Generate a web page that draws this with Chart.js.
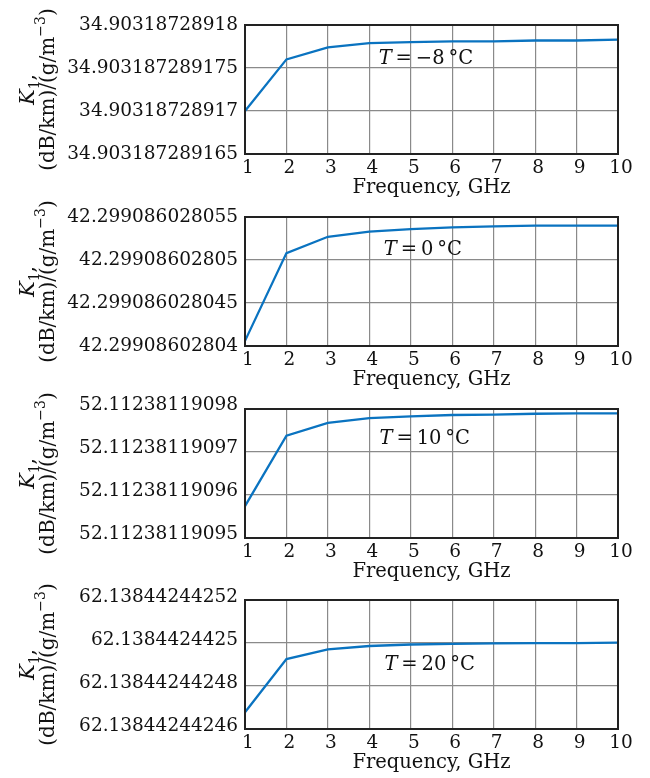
<!DOCTYPE html>
<html>
<head>
<meta charset="utf-8">
<script src="https://cdn.jsdelivr.net/npm/chart.js@4/dist/chart.umd.min.js"></script>
<style>
    body { margin: 0; background: #fff; }
    #wrap { position: relative; width: 650px; height: 778px; overflow: hidden; }
    canvas { position: absolute; left: 0; }
</style>
</head>
<body>
<div id="wrap">
    <canvas id="panel0" width="650" height="200"></canvas>
    <canvas id="panel1" width="650" height="200"></canvas>
    <canvas id="panel2" width="650" height="200"></canvas>
    <canvas id="panel3" width="650" height="200"></canvas>
</div>
<script>
// 周波数 (GHz)
const frequencies = ['1', '2', '3', '4', '5', '6', '7', '8', '9', '10'];

// K1 の値 (各温度)
const k1Minus8 = [
    34.90318728917, 34.903187289176, 34.9031872891774, 34.9031872891779, 34.903187289178,
    34.9031872891781, 34.9031872891781, 34.9031872891782, 34.9031872891782, 34.9031872891783,
];
const k1Zero = [
    42.2990860280406, 42.2990860280508, 42.2990860280527, 42.2990860280533, 42.2990860280536,
    42.2990860280538, 42.2990860280539, 42.299086028054, 42.299086028054, 42.299086028054,
];
const k1Ten = [
    52.1123811909574, 52.1123811909738, 52.1123811909768, 52.1123811909779, 52.1123811909783,
    52.1123811909786, 52.1123811909787, 52.1123811909789, 52.112381190979, 52.112381190979,
];
const k1Twenty = [
    62.1384424424678, 62.1384424424925, 62.138442442497, 62.1384424424986, 62.1384424424993,
    62.1384424424996, 62.1384424424998, 62.1384424424999, 62.1384424424999, 62.1384424425002,
];

// 縦軸の目盛ラベル (下から上)
const ticksMinus8 = ['34.903187289165', '34.90318728917', '34.903187289175', '34.90318728918'];
const ticksZero = ['42.29908602804', '42.299086028045', '42.29908602805', '42.299086028055'];
const ticksTen = ['52.11238119095', '52.11238119096', '52.11238119097', '52.11238119098'];
const ticksTwenty = ['62.13844244246', '62.13844244248', '62.1384424425', '62.13844244252'];

// 温度ラベル
const temperatures = ['−8', '0', '10', '20'];

const FONT = '"DejaVu Serif", "Liberation Serif", serif';
const TEXT_COLOR = '#111';
const GRID_COLOR = '#8a8a8a';

const panels = [
    { values: k1Minus8, ticks: ticksMinus8, temp: temperatures[0], top: 1, noteX: 0.485, noteY: 0.25, labelOffset: 0 },
    { values: k1Zero, ticks: ticksZero, temp: temperatures[1], top: 193, noteX: 0.477, noteY: 0.24, labelOffset: 0 },
    { values: k1Ten, ticks: ticksTen, temp: temperatures[2], top: 385, noteX: 0.482, noteY: 0.215, labelOffset: -4 },
    { values: k1Twenty, ticks: ticksTwenty, temp: temperatures[3], top: 576, noteX: 0.495, noteY: 0.49, labelOffset: -3 },
];

/**
 * 書式の異なる文字列を並べて描画します。
 */
const drawRuns = (ctx, runs, cx, cy) => {
    let total = 0;
    runs.forEach((run) => {
        ctx.font = `${run.style || 'normal'} ${run.size}px ${FONT}`;
        run.width = ctx.measureText(run.text).width;
        total += run.width;
    });
    let x = cx - total / 2;
    ctx.textAlign = 'left';
    ctx.textBaseline = 'alphabetic';
    runs.forEach((run) => {
        ctx.font = `${run.style || 'normal'} ${run.size}px ${FONT}`;
        ctx.fillText(run.text, x, cy + 7 + (run.dy || 0));
        x += run.width;
    });
};

/**
 * 枠・縦軸タイトル・温度ラベルを描画するプラグイン
 */
const decorPlugin = {
    id: 'decor',
    afterDatasetsDraw: (chart) => {
        const { ctx, chartArea } = chart;
        ctx.save();
        ctx.strokeStyle = '#222';
        ctx.lineWidth = 2;
        ctx.strokeRect(chartArea.left, chartArea.top, chartArea.right - chartArea.left, chartArea.bottom - chartArea.top);
        ctx.restore();
    },
    afterDraw: (chart, args, opts) => {
        const { ctx, chartArea } = chart;
        const midY = (chartArea.top + chartArea.bottom) / 2;
        ctx.save();
        ctx.fillStyle = TEXT_COLOR;

        ctx.save();
        ctx.translate(27, midY);
        ctx.rotate(-Math.PI / 2);
        drawRuns(ctx, [
            { text: 'K', size: 21, style: 'italic' },
            { text: '1', size: 14, dy: 5 },
            { text: ',', size: 20 },
        ], 0, 0);
        ctx.restore();

        ctx.save();
        ctx.translate(47, midY);
        ctx.rotate(-Math.PI / 2);
        drawRuns(ctx, [
            { text: '(dB/km)/(g/m', size: 20 },
            { text: '−3', size: 14, dy: -9 },
            { text: ')', size: 20 },
        ], 0, 0);
        ctx.restore();

        const nx = chartArea.left + opts.noteX * (chartArea.right - chartArea.left);
        const ny = chartArea.top + opts.noteY * (chartArea.bottom - chartArea.top);
        drawRuns(ctx, [
            { text: 'T', size: 19.5, style: 'italic' },
            { text: `\u2009=\u2009${opts.temp}\u2009°C`, size: 19.5 },
        ], nx, ny);
        ctx.restore();
    },
};

/**
 * 1 枚のグラフを生成します。
 */
const createPanel = (index, panel) => {
    const canvas = document.getElementById(`panel${index}`);
    canvas.style.top = `${panel.top}px`;
    const tickValues = panel.ticks.map(Number);

    return new Chart(canvas, {
        type: 'line',
        data: {
            labels: frequencies,
            datasets: [
                {
                    data: panel.values,
                    borderColor: '#0a73c0',
                    borderWidth: 2.3,
                    pointRadius: 0,
                    tension: 0,
                },
            ],
        },
        options: {
            responsive: false,
            animation: false,
            layout: { padding: { top: 24, right: 32, left: 0, bottom: 0 } },
            plugins: {
                legend: { display: false },
                tooltip: { enabled: false },
                decor: { noteX: panel.noteX, noteY: panel.noteY, temp: panel.temp },
            },
            scales: {
                x: {
                    offset: false,
                    grid: { color: GRID_COLOR, lineWidth: 1.2, drawTicks: false },
                    border: { display: false },
                    ticks: {
                        color: TEXT_COLOR,
                        font: { family: FONT, size: 18.5 },
                        padding: 3,
                        labelOffset: 3,
                        maxRotation: 0,
                    },
                    title: {
                        display: true,
                        text: 'Frequency, GHz',
                        color: TEXT_COLOR,
                        font: { family: FONT, size: 19.5 },
                        padding: { top: 0, bottom: 1 },
                    },
                    afterFit: (scale) => { scale.height = 47; },
                },
                y: {
                    min: tickValues[0],
                    max: tickValues[tickValues.length - 1],
                    grid: { color: GRID_COLOR, lineWidth: 1.2, drawTicks: false },
                    border: { display: false },
                    afterBuildTicks: (scale) => {
                        scale.ticks = tickValues.map((v) => ({ value: v }));
                    },
                    ticks: {
                        color: TEXT_COLOR,
                        font: { family: FONT, size: 18.5 },
                        padding: 7,
                        labelOffset: panel.labelOffset,
                        callback: (value, i) => panel.ticks[i],
                    },
                    afterFit: (scale) => { scale.width = 245; },
                },
            },
        },
        plugins: [decorPlugin],
    });
};

const main = () => {
    panels.forEach((panel, i) => createPanel(i, panel));
};

main();
</script>
</body>
</html>
